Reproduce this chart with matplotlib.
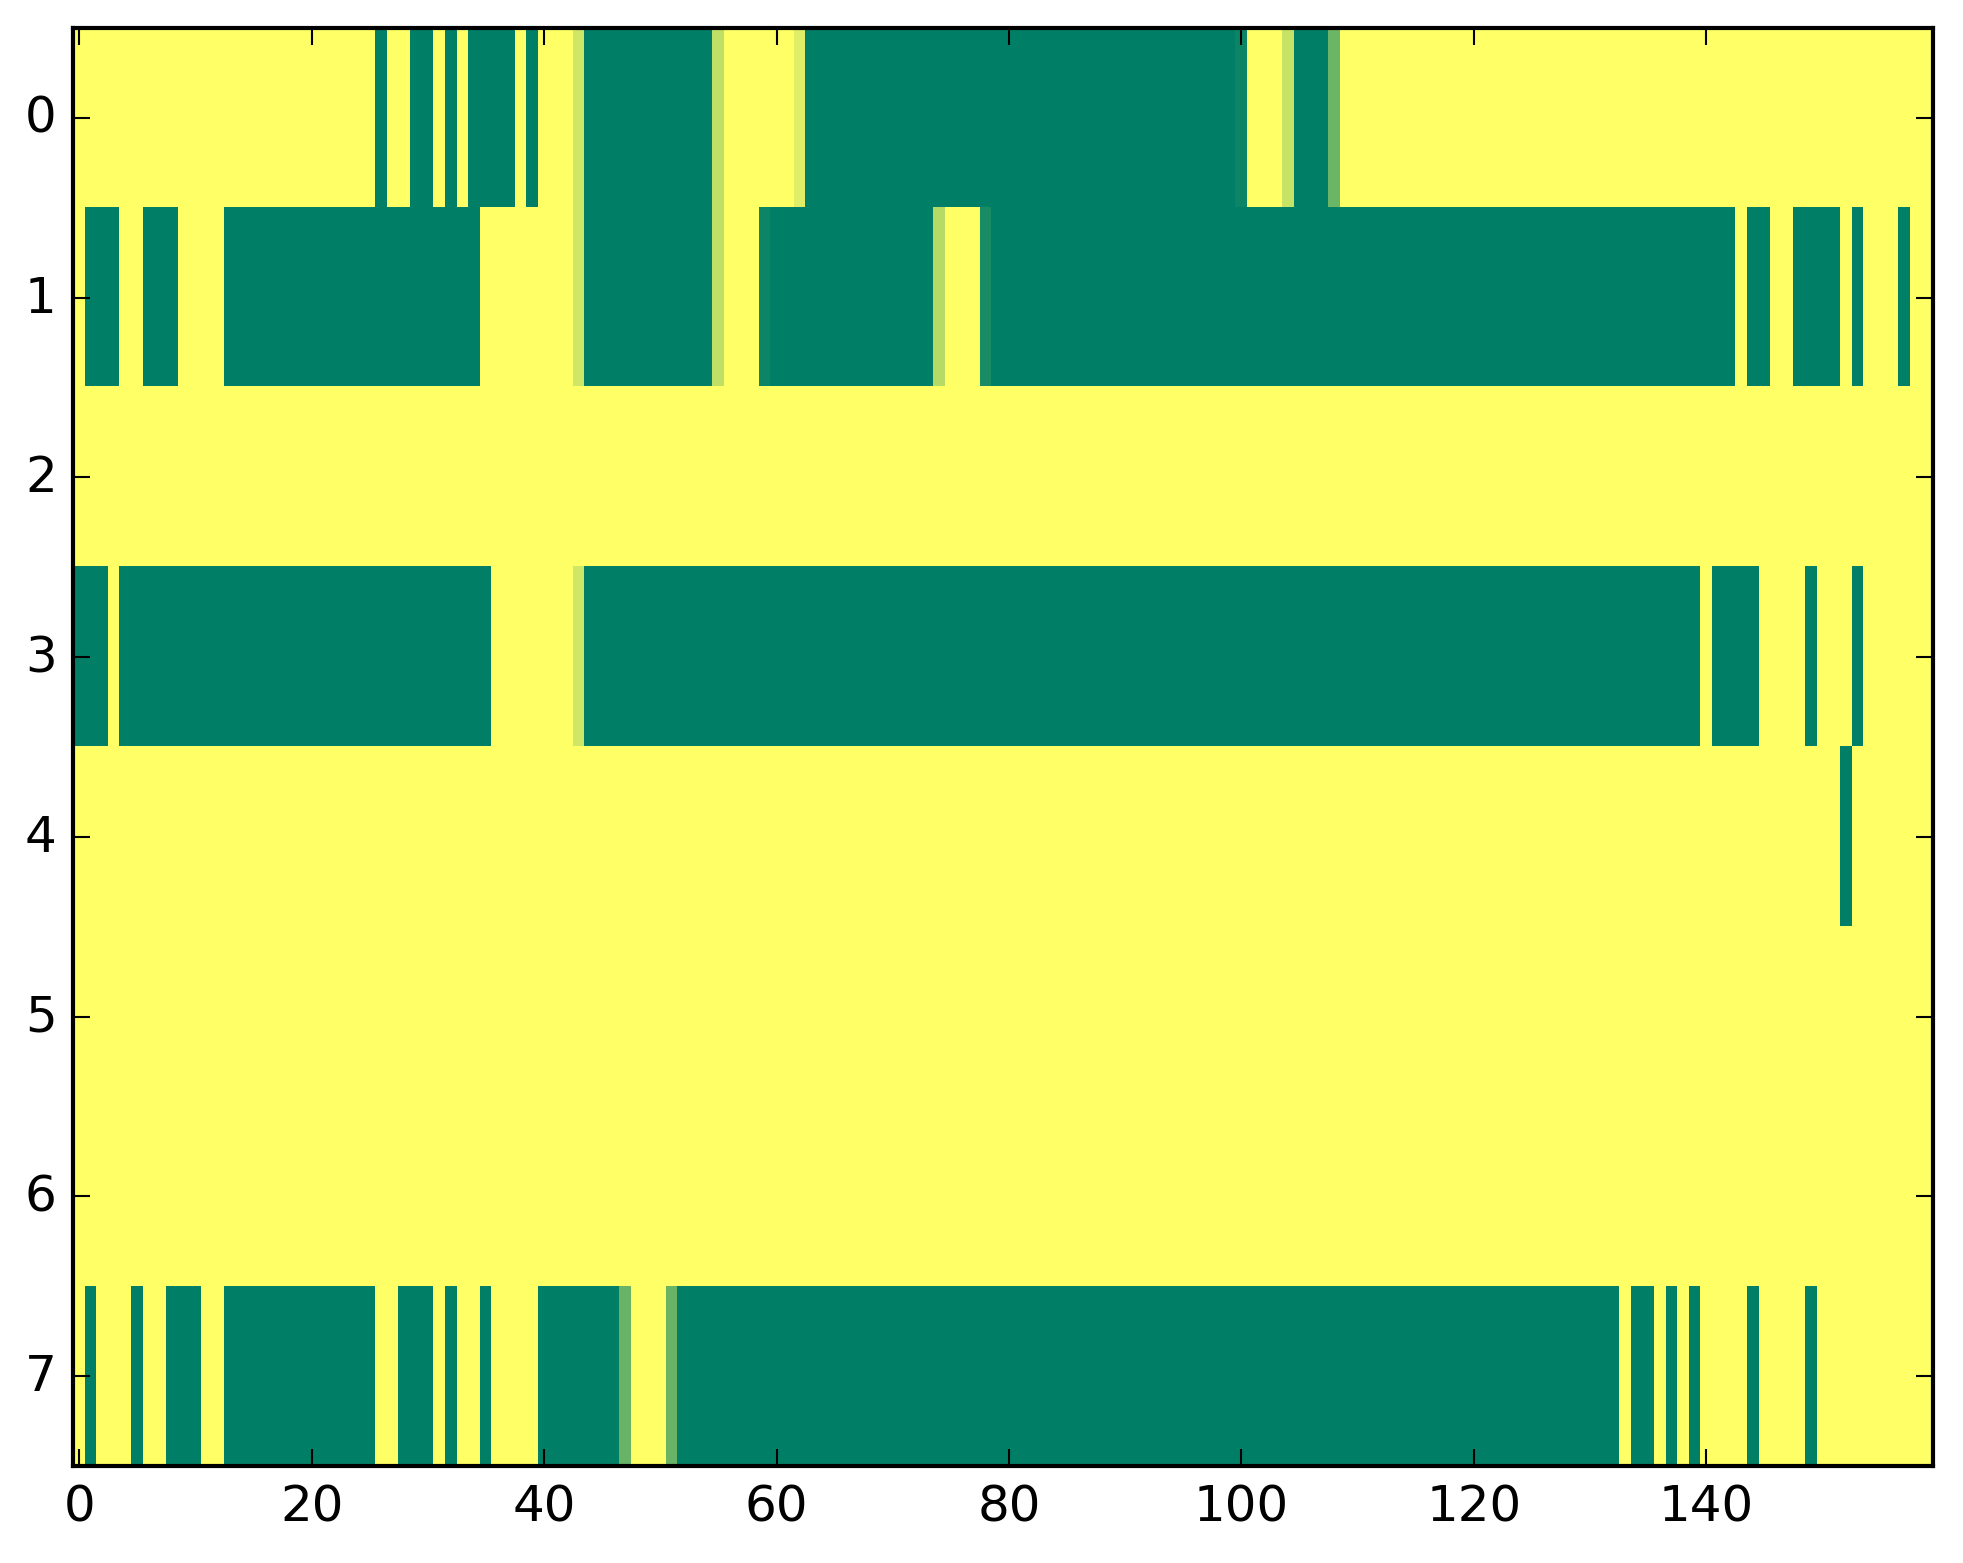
import numpy as np
import matplotlib
matplotlib.use("Agg")
import matplotlib.pyplot as plt

# each row is stored as runs of (value, number of columns)
row0 = [(1, 26), (0, 1), (1, 2), (0, 2), (1, 1), (0, 1), (1, 1), (0, 4), (1, 1), (0, 1),
        (1, 3), (0.81, 1), (0, 11), (0.75, 1), (1, 6), (0.87, 1), (0, 37), (0.05, 1),
        (1, 3), (0.78, 1), (0, 3), (0.42, 1), (1, 51)]
row1 = [(1, 1), (0, 3), (1, 2), (0, 3), (1, 4), (0, 22), (1, 8), (0.81, 1), (0, 11),
        (0.75, 1), (1, 3), (0.05, 1), (0, 14), (0.71, 1), (1, 3), (0.1, 1), (0, 64),
        (1, 1), (0, 2), (1, 2), (0, 4), (1, 1), (0, 1), (1, 3), (0, 1), (1, 2)]
row2 = [(1, 160)]
row3 = [(0, 3), (1, 1), (0, 32), (1, 7), (0.81, 1), (0, 96), (1, 1), (0, 4), (1, 4),
        (0, 1), (1, 3), (0, 1), (1, 6)]
row4 = [(1, 152), (0, 1), (1, 7)]
row5 = [(1, 160)]
row6 = [(1, 160)]
row7 = [(1, 1), (0, 1), (1, 3), (0, 1), (1, 2), (0, 3), (1, 2), (0, 13), (1, 2), (0, 3),
        (1, 1), (0, 1), (1, 2), (0, 1), (1, 4), (0, 7), (0.41, 1), (1, 3), (0.41, 1),
        (0, 81), (1, 1), (0, 2), (1, 1), (0, 1), (1, 1), (0, 1), (1, 4), (0, 1), (1, 4),
        (0, 1), (1, 10)]

x_ticks = [0, 20, 40, 60, 80, 100, 120, 140]
y_ticks = [0, 1, 2, 3, 4, 5, 6, 7]


def expand(runs):
    vals = [v for v, n in runs]
    counts = [n for v, n in runs]
    return np.repeat(vals, counts)


def main():
    plt.style.use("classic")
    data = np.vstack([expand(r) for r in [row0, row1, row2, row3, row4, row5, row6, row7]])

    fig = plt.figure(figsize=(1963 / 300, 1564 / 300), dpi=300, facecolor="white")
    ax = fig.add_axes([0.0374, 0.062, 0.9473, 0.9195])
    ax.imshow(data, cmap="summer", vmin=0, vmax=1, aspect="auto", interpolation="nearest")
    ax.set_xticks(x_ticks)
    ax.set_yticks(y_ticks)
    ax.set_xlim(-0.5, data.shape[1] - 0.5)
    ax.set_ylim(data.shape[0] - 0.5, -0.5)
    ax.tick_params(labelsize=12)
    fig.savefig("out.png", dpi=300, facecolor="white")


if __name__ == "__main__":
    main()
